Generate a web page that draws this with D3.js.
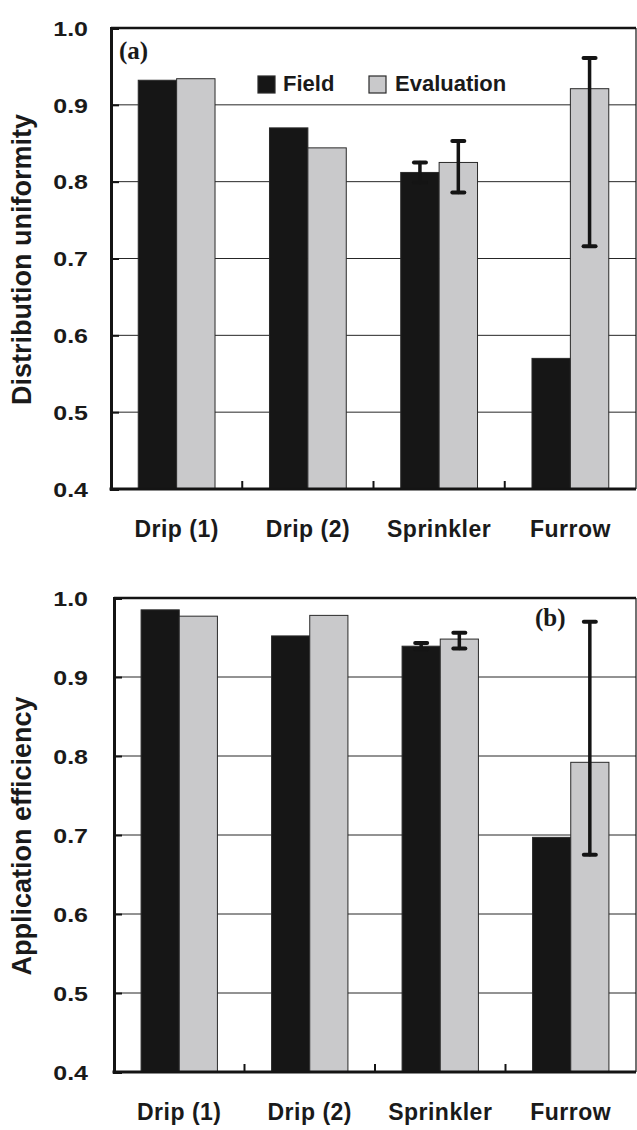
<!DOCTYPE html>
<html>
<head>
<meta charset="utf-8">
<script src="https://cdn.jsdelivr.net/npm/d3@7/dist/d3.min.js"></script>
<style>
  html, body { margin: 0; padding: 0; background: #fff; }
  svg { display: block; }
  .tick-label { font-family: "Liberation Sans", Arial, sans-serif; font-weight: bold; font-size: 20px; fill: #1a1a1a; }
  .cat-label { font-family: "Liberation Sans", Arial, sans-serif; font-weight: bold; font-size: 23px; fill: #1a1a1a; letter-spacing: 0.5px; }
  .axis-title { font-family: "Liberation Sans", Arial, sans-serif; font-weight: bold; font-size: 27px; fill: #1a1a1a; }
  .legend-text { font-family: "Liberation Sans", Arial, sans-serif; font-weight: bold; font-size: 22px; fill: #1a1a1a; }
  .panel-tag { font-family: "Liberation Serif", "Times New Roman", serif; font-weight: bold; font-size: 25px; fill: #1a1a1a; }
</style>
</head>
<body>
<svg id="chart" width="637" height="1130"></svg>
<script>
// Irrigation systems compared on two performance measures
const categories = ["Drip (1)", "Drip (2)", "Sprinkler", "Furrow"];
const seriesNames = ["Field", "Evaluation"];
const seriesColors = ["#161616", "#c9c9cb"];
const yTickValues = [0.4, 0.5, 0.6, 0.7, 0.8, 0.9, 1.0];

// (a) Distribution uniformity
const duField = [0.932, 0.870, 0.812, 0.570];
const duEval = [0.934, 0.844, 0.825, 0.921];
const duFieldLow = [null, null, 0.799, null];
const duFieldHigh = [null, null, 0.825, null];
const duEvalLow = [null, null, 0.786, 0.716];
const duEvalHigh = [null, null, 0.853, 0.961];

// (b) Application efficiency
const aeField = [0.985, 0.952, 0.939, 0.697];
const aeEval = [0.977, 0.978, 0.948, 0.792];
const aeFieldLow = [null, null, 0.935, null];
const aeFieldHigh = [null, null, 0.943, null];
const aeEvalLow = [null, null, 0.936, 0.675];
const aeEvalHigh = [null, null, 0.956, 0.970];

const svg = d3.select("#chart");
const tickStretch = 1.25; // tick numerals are set in a widened face

function drawPanel(opt) {
  const g = svg.append("g");
  const x0 = d3.scaleBand().domain(categories).range([opt.left, opt.right]).paddingInner(0).paddingOuter(0);
  const groupW = x0.bandwidth() * 0.585;
  const x1 = d3.scaleBand().domain(seriesNames).range([0, groupW]);
  const y = d3.scaleLinear().domain([0.4, 1.0]).range([opt.bottom, opt.top]);

  // horizontal grid lines
  g.selectAll("line.grid").data(yTickValues.filter(v => v > 0.4 && v < 1.0)).join("line")
    .attr("x1", opt.left).attr("x2", opt.right)
    .attr("y1", d => y(d)).attr("y2", d => y(d))
    .attr("stroke", "#262626").attr("stroke-width", 1);

  // bars
  const rows = categories.map((c, i) => ({
    cat: c,
    vals: [
      { s: seriesNames[0], v: opt.field[i], lo: opt.fieldLow[i], hi: opt.fieldHigh[i] },
      { s: seriesNames[1], v: opt.evalv[i], lo: opt.evalLow[i], hi: opt.evalHigh[i] }
    ]
  }));
  const grp = g.selectAll("g.grp").data(rows).join("g")
    .attr("transform", d => `translate(${x0(d.cat) + (x0.bandwidth() - groupW) / 2},0)`);
  grp.selectAll("rect").data(d => d.vals).join("rect")
    .attr("x", d => x1(d.s)).attr("width", x1.bandwidth())
    .attr("y", d => y(d.v)).attr("height", d => y(0.4) - y(d.v))
    .attr("fill", (d, i) => seriesColors[i])
    .attr("stroke", "#2a2a2a").attr("stroke-width", 1);

  // error bars
  const eb = grp.selectAll("g.err").data(d => d.vals.filter(v => v.lo != null)).join("g")
    .attr("stroke", "#141414").attr("stroke-linecap", "round");
  eb.append("line")
    .attr("x1", d => x1(d.s) + x1.bandwidth() / 2).attr("x2", d => x1(d.s) + x1.bandwidth() / 2)
    .attr("y1", d => y(d.lo)).attr("y2", d => y(d.hi)).attr("stroke-width", 3.5);
  ["lo", "hi"].forEach(k => {
    eb.append("line")
      .attr("x1", d => x1(d.s) + x1.bandwidth() / 2 - 6).attr("x2", d => x1(d.s) + x1.bandwidth() / 2 + 6)
      .attr("y1", d => y(d[k])).attr("y2", d => y(d[k])).attr("stroke-width", 4);
  });

  // frame: top and right
  g.append("line").attr("x1", opt.left).attr("x2", opt.right).attr("y1", y(1.0)).attr("y2", y(1.0))
    .attr("stroke", "#141414").attr("stroke-width", 2.5);
  g.append("line").attr("x1", opt.right).attr("x2", opt.right).attr("y1", y(1.0)).attr("y2", y(0.4))
    .attr("stroke", "#141414").attr("stroke-width", 1.2);

  // y axis
  const yAxis = d3.axisLeft(y).tickValues(yTickValues).tickSize(-8).tickPadding(0).tickFormat(d3.format(".1f"));
  const ya = g.append("g").attr("transform", `translate(${opt.left},0)`).call(yAxis);
  ya.attr("font-size", null).attr("font-family", null);
  ya.select(".domain").attr("stroke", "#141414").attr("stroke-width", 3);
  ya.selectAll(".tick line").attr("stroke", "#141414").attr("stroke-width", 2);
  ya.selectAll(".tick text").attr("class", "tick-label")
    .attr("x", -(opt.left - 88) / tickStretch).attr("dy", "0.36em")
    .attr("transform", `scale(${tickStretch},1)`)
    .attr("text-anchor", "end");

  // x axis with ticks between groups
  const xa = g.append("g").attr("transform", `translate(0,${opt.bottom})`);
  xa.append("line").attr("x1", opt.left - 1.5).attr("x2", opt.right).attr("y1", 0).attr("y2", 0)
    .attr("stroke", "#141414").attr("stroke-width", 3);
  xa.selectAll("line.sep").data(categories.slice(1)).join("line")
    .attr("x1", d => x0(d)).attr("x2", d => x0(d)).attr("y1", 0).attr("y2", -8)
    .attr("stroke", "#141414").attr("stroke-width", 2);
  xa.selectAll("text").data(categories).join("text")
    .attr("class", "cat-label")
    .attr("x", d => x0(d) + x0.bandwidth() / 2).attr("y", 48)
    .attr("text-anchor", "middle").text(d => d);

  // axis title
  g.append("text").attr("class", "axis-title")
    .attr("transform", `translate(31,${(opt.top + opt.bottom) / 2 + 1}) rotate(-90)`)
    .attr("text-anchor", "middle").text(opt.title);

  // panel tag
  g.append("text").attr("class", "panel-tag").attr("x", opt.tagX).attr("y", opt.tagY).text(opt.tag);

  return { g, y };
}

drawPanel({
  left: 111, right: 636, top: 28, bottom: 489,
  field: duField, evalv: duEval,
  fieldLow: duFieldLow, fieldHigh: duFieldHigh, evalLow: duEvalLow, evalHigh: duEvalHigh,
  title: "Distribution uniformity", tag: "(a)", tagX: 119, tagY: 59
});

// legend for both series
const legend = svg.append("g");
const legendItems = [{ name: seriesNames[0], x: 258, tx: 283 }, { name: seriesNames[1], x: 369, tx: 395 }];
legend.selectAll("rect").data(legendItems).join("rect")
  .attr("x", d => d.x).attr("y", 76).attr("width", 17).attr("height", 17)
  .attr("fill", (d, i) => seriesColors[i]).attr("stroke", "#2a2a2a").attr("stroke-width", 1.2);
legend.selectAll("text").data(legendItems).join("text")
  .attr("class", "legend-text").attr("x", d => d.tx).attr("y", 91).text(d => d.name);

drawPanel({
  left: 114, right: 636, top: 598, bottom: 1072,
  field: aeField, evalv: aeEval,
  fieldLow: aeFieldLow, fieldHigh: aeFieldHigh, evalLow: aeEvalLow, evalHigh: aeEvalHigh,
  title: "Application efficiency", tag: "(b)", tagX: 535, tagY: 626
});
</script>
</body>
</html>
